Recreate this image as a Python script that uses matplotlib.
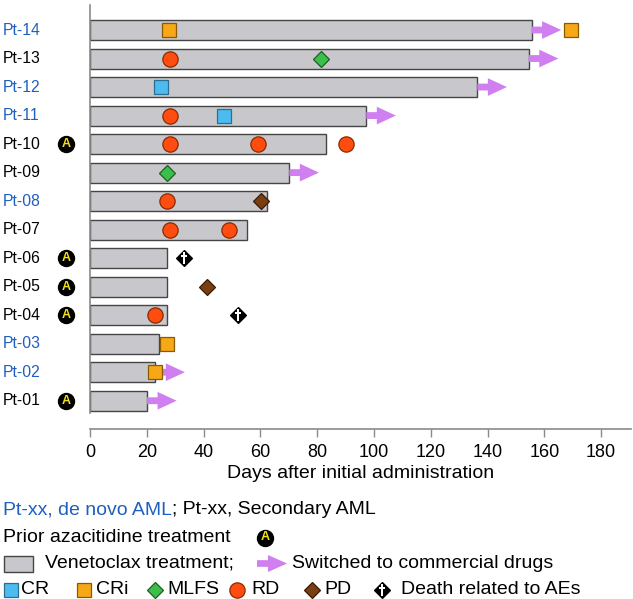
import numpy as np
import matplotlib
matplotlib.use('Agg')
import matplotlib.pyplot as plt
from matplotlib.path import Path
from matplotlib.patches import Rectangle, FancyArrow
from matplotlib.transforms import blended_transform_factory

plt.rcParams['font.family'] = ['Liberation Sans', 'DejaVu Sans']

# ---- data ----
patients = ['Pt-01', 'Pt-02', 'Pt-03', 'Pt-04', 'Pt-05', 'Pt-06', 'Pt-07',
            'Pt-08', 'Pt-09', 'Pt-10', 'Pt-11', 'Pt-12', 'Pt-13', 'Pt-14']
duration = [20.1, 23.0, 24.2, 27.0, 27.0, 27.0, 55.2,
            62.2, 70.2, 83.2, 97.3, 136.4, 154.5, 155.5]
de_novo = [False, True, True, False, False, False, False,
           True, False, False, True, True, False, True]
prior_aza = [True, False, False, True, True, True, False,
             False, False, True, False, False, False, False]
switched = [True, True, False, False, False, False, False,
            False, True, False, True, True, True, True]

cr_pts = ['Pt-11', 'Pt-12']
cr_days = [47.2, 25.0]
cri_pts = ['Pt-02', 'Pt-03', 'Pt-14', 'Pt-14']
cri_days = [22.9, 27.0, 27.8, 169.4]
mlfs_pts = ['Pt-09', 'Pt-13']
mlfs_days = [27.1, 81.2]
rd_pts = ['Pt-04', 'Pt-07', 'Pt-07', 'Pt-08', 'Pt-10', 'Pt-10', 'Pt-10', 'Pt-11', 'Pt-13']
rd_days = [23.0, 28.0, 49.0, 27.0, 28.0, 59.2, 90.3, 28.0, 28.0]
pd_pts = ['Pt-05', 'Pt-08']
pd_days = [41.1, 60.1]
death_pts = ['Pt-04', 'Pt-06']
death_days = [52.1, 33.1]

xticks = [0, 20, 40, 60, 80, 100, 120, 140, 160, 180]

# ---- style ----
BAR = '#c8c8cc'
EDGE = '#454545'
ARROW = '#d07ff0'
C_CR = '#4dbbef'
C_CRI = '#f6a818'
C_MLFS = '#3cbf4a'
C_RD = '#ff4d12'
C_PD = '#7a3e12'
BLUE = '#1f5fbf'
FS = 11.3      # patient labels
LFS = 14       # legend text

# latin cross for the death marker
cross = Path([(-0.09, -0.5), (0.09, -0.5), (0.09, 0.08), (0.3, 0.08), (0.3, 0.24),
              (0.09, 0.24), (0.09, 0.5), (-0.09, 0.5), (-0.09, 0.24), (-0.3, 0.24),
              (-0.3, 0.08), (-0.09, 0.08), (-0.09, -0.5)], closed=True)

W, H = 633, 599
fig = plt.figure(figsize=(W / 100, H / 100), dpi=100)
ax = fig.add_axes([90 / W, (H - 413) / H, (631 - 90) / W, (413 - 5) / H])

ypos = {p: i for i, p in enumerate(patients)}
y = np.arange(len(patients))

ax.barh(y, duration, height=0.7, color=BAR, edgecolor=EDGE, linewidth=1.0, zorder=2)

for yi, d, sw in zip(y, duration, switched):
    if sw:
        ax.add_patch(FancyArrow(d, yi, 10.4, 0, width=0.24, head_width=0.62,
                                head_length=6.7, length_includes_head=True,
                                color=ARROW, linewidth=0, zorder=3))


def events(pts, days, **kw):
    ax.plot(days, [ypos[p] for p in pts], linestyle='none', zorder=4,
            clip_on=False, **kw)


events(cr_pts, cr_days, marker='s', ms=10.5, mfc=C_CR, mec='#2a6f90', mew=0.9)
events(cri_pts, cri_days, marker='s', ms=10.5, mfc=C_CRI, mec='#8a5a00', mew=0.9)
events(mlfs_pts, mlfs_days, marker='D', ms=7.8, mfc=C_MLFS, mec='#1d5e24', mew=0.9)
events(rd_pts, rd_days, marker='o', ms=11, mfc=C_RD, mec='#8a2a00', mew=0.9)
events(pd_pts, pd_days, marker='D', ms=7.8, mfc=C_PD, mec='#3a1a05', mew=0.9)
events(death_pts, death_days, marker='D', ms=7.8, mfc='black', mec='black', mew=0.9)
events(death_pts, death_days, marker=cross, ms=8, mfc='white', mec='white', mew=0)

# patient labels and prior azacitidine badges
lab_tr = blended_transform_factory(fig.transFigure, ax.transData)
for yi, p, dn, az in zip(y, patients, de_novo, prior_aza):
    ax.text(3 / W, yi, p, transform=lab_tr, ha='left', va='center',
            fontsize=FS, color=BLUE if dn else 'black')
    if az:
        ax.plot([66 / W], [yi], transform=lab_tr, marker='o', ms=11.5,
                color='black', clip_on=False)
        ax.text(66 / W, yi, 'A', transform=lab_tr, ha='center', va='center',
                fontsize=9, fontweight='bold', color='#f2e21a')

ax.set_xlim(0, 190.5)
ax.set_ylim(-0.43, 13.877)
ax.set_yticks([])
ax.set_xticks(xticks)
ax.tick_params(axis='x', direction='out', length=5.5, width=1.0, color='#8a8a8a',
               labelsize=13, pad=5)
for s in ['top', 'right']:
    ax.spines[s].set_visible(False)
ax.spines['left'].set_color('#8a8a8a')
ax.spines['left'].set_linewidth(1.2)
ax.spines['bottom'].set_color('#8a8a8a')
ax.spines['bottom'].set_linewidth(1.2)
ax.spines['bottom'].set_position(('outward', 11.5))
ax.set_xlabel('Days after initial administration', fontsize=14, labelpad=3)

# ---- legend block, drawn in pixel coordinates ----
lg = fig.add_axes([0, 0, 1, 104 / H])
lg.set_xlim(0, W)
lg.set_ylim(H, H - 104)
lg.axis('off')

r1, r2, r3, r4 = 510, 537.5, 563.5, 589.5
t1 = lg.text(3, r1, 'Pt-xx, de novo AML', color=BLUE, fontsize=LFS, va='center')
fig.canvas.draw()
bb = t1.get_window_extent().transformed(lg.transData.inverted())
lg.text(bb.x1, r1, '; Pt-xx, Secondary AML', color='black', fontsize=LFS, va='center')

lg.text(3, r2, 'Prior azacitidine treatment', fontsize=LFS, va='center')
lg.plot([265], [r2], marker='o', ms=11.5, color='black')
lg.text(265, r2, 'A', ha='center', va='center', fontsize=9, fontweight='bold',
        color='#f2e21a')

lg.add_patch(Rectangle((4, r3 - 8), 29, 16, facecolor=BAR, edgecolor=EDGE, linewidth=1.0))
lg.text(45, r3, 'Venetoclax treatment;', fontsize=LFS, va='center')
lg.add_patch(FancyArrow(257, r3, 30, 0, width=6.7, head_width=17, head_length=19,
                        length_includes_head=True, color=ARROW, linewidth=0))
lg.text(292, r3, 'Switched to commercial drugs', fontsize=LFS, va='center')

lg.plot([11], [r4], marker='s', ms=10, mfc=C_CR, mec='#2a6f90', mew=0.9)
lg.text(21, r4, 'CR', fontsize=LFS, va='center')
lg.plot([84], [r4], marker='s', ms=10, mfc=C_CRI, mec='#8a5a00', mew=0.9)
lg.text(96, r4, 'CRi', fontsize=LFS, va='center')
lg.plot([155], [r4], marker='D', ms=7.8, mfc=C_MLFS, mec='#1d5e24', mew=0.9)
lg.text(167, r4, 'MLFS', fontsize=LFS, va='center')
lg.plot([237], [r4], marker='o', ms=11, mfc=C_RD, mec='#8a2a00', mew=0.9)
lg.text(251, r4, 'RD', fontsize=LFS, va='center')
lg.plot([312], [r4], marker='D', ms=7.8, mfc=C_PD, mec='#3a1a05', mew=0.9)
lg.text(324, r4, 'PD', fontsize=LFS, va='center')
lg.plot([382], [r4], marker='D', ms=7.8, mfc='black', mec='black', mew=0.9)
lg.plot([382], [r4 + 0.3], marker=cross, ms=8, mfc='white', mec='white', mew=0)
lg.text(401, r4, 'Death related to AEs', fontsize=LFS, va='center')

fig.savefig('out.png', dpi=100)
